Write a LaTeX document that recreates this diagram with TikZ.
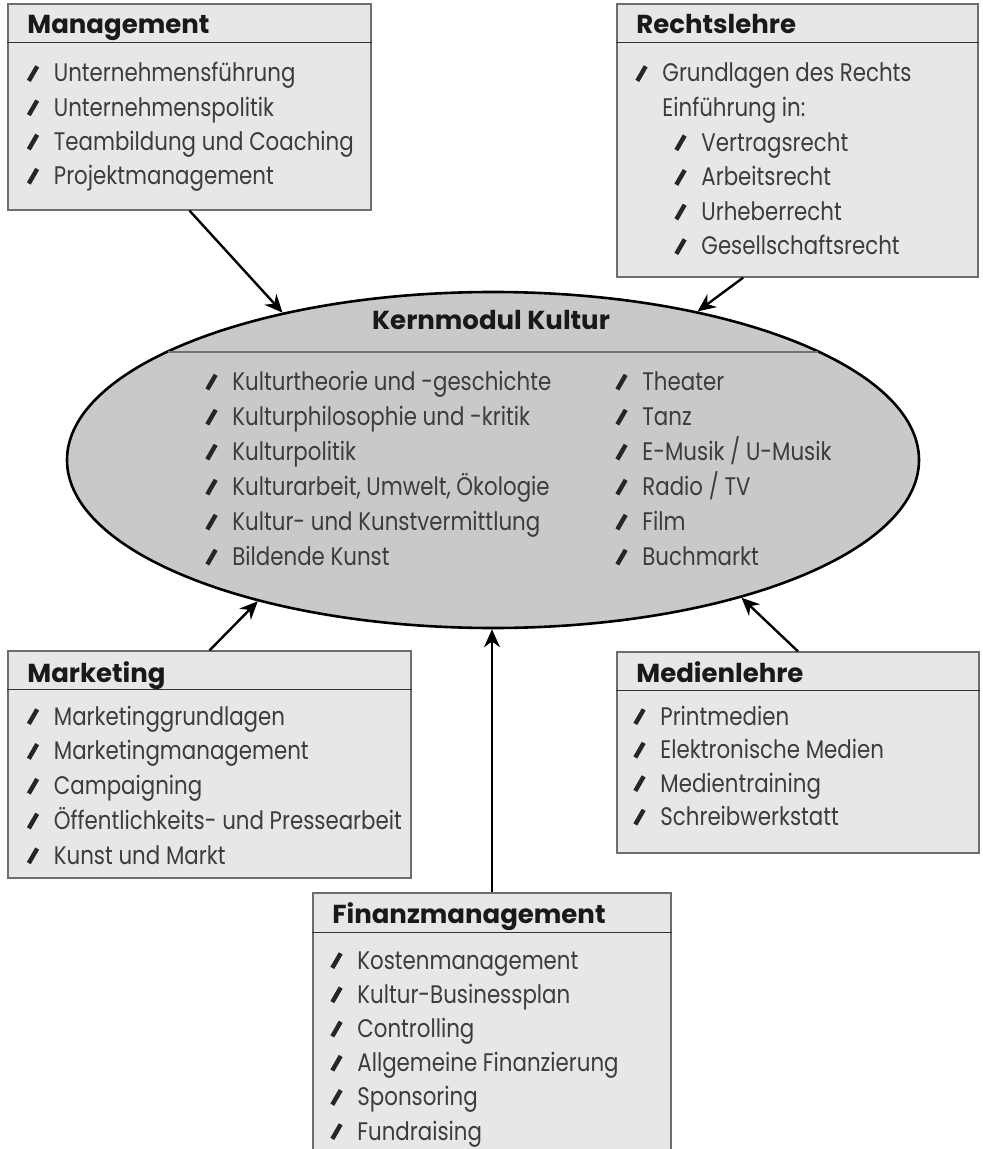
\documentclass[tikz,border=0pt]{standalone}
\usepackage{fontspec}
\setmainfont{Poppins}
\newfontfamily\punktfont{Poppins}[FakeStretch=0.84]
\usepackage{graphicx}
\usetikzlibrary{shapes.geometric,arrows.meta,fit,calc}

\definecolor{boxgray}{HTML}{E6E7E8}
\definecolor{kerngray}{HTML}{C8C9CB}
\definecolor{rahmen}{HTML}{6D6E70}
\definecolor{schrift}{HTML}{3C3C3C}

\newcommand{\strich}{\makebox[13.5pt][l]{\textcolor{black!85}{\rotatebox{60}{\rule{8.4pt}{2.2pt}}}}}

\tikzset{
  box/.style={draw=rahmen, fill=boxgray, line width=0.6pt, inner sep=0pt},
  kopf/.style={anchor=base west, inner sep=0pt, font=\bfseries\fontsize{13}{15}\selectfont, text=black!90},
  punkt/.style={anchor=base west, inner sep=0pt, font=\punktfont\fontsize{12.7}{14}\selectfont, text=schrift},
  trenn/.style={draw=black!80, line width=0.5pt},
  pfeil/.style={-{Stealth[length=9pt,width=8pt]}, line width=1.2pt},
}

\begin{document}
\begin{tikzpicture}[x=0.5pt, y=-0.5pt]

    \clip (0,0) rectangle (983,1149);

    % Kernmodul in der Mitte
    \node[ellipse, draw=black, line width=1.3pt, fill=kerngray, minimum width=426pt, minimum height=168pt, inner sep=0pt] (kern) at (493,460) {};
    \draw[draw=black!55, line width=0.9pt] (168,352) -- (818,352);
    \node[anchor=base, inner sep=0pt, font=\bfseries\fontsize{13}{15}\selectfont, text=black!90] (kern-titel) at (491,330) {Kernmodul Kultur};

    \foreach \t [count=\i from 0] in {Kulturtheorie und -geschichte, Kulturphilosophie und -kritik, Kulturpolitik, {Kulturarbeit, Umwelt, Ökologie}, Kultur- und Kunstvermittlung, Bildende Kunst} {
        \node[punkt] (kern-l\i) at (205, 390.5+35*\i) {\strich\t};
    }
    \foreach \t [count=\i from 0] in {Theater, Tanz, E-Musik / U-Musik, Radio / TV, Film, Buchmarkt} {
        \node[punkt] (kern-r\i) at (615, 390.5+35*\i) {\strich\t};
    }

    % Management
    \node[box, fit={(8,4) (371,210)}] (mgmt) {};
    \draw[trenn] ([yshift=-19.5pt]mgmt.north west) -- ([yshift=-19.5pt]mgmt.north east);
    \node[kopf] (mgmt-titel) at (27,34) {Management};
    \foreach \t [count=\i from 0] in {Unternehmensführung, Unternehmenspolitik, Teambildung und Coaching, Projektmanagement} {
        \node[punkt] (mgmt-\i) at (26.5, 82+34.2*\i) {\strich\t};
    }

    % Rechtslehre
    \node[box, fit={(617,4) (978,277)}] (recht) {};
    \draw[trenn] ([yshift=-19.5pt]recht.north west) -- ([yshift=-19.5pt]recht.north east);
    \node[kopf] (recht-titel) at (636,34) {Rechtslehre};
    \node[punkt] (recht-0) at (635,82) {\strich Grundlagen des Rechts};
    \node[punkt] (recht-1) at (662,116.5) {Einführung in:};
    \foreach \t [count=\i from 2] in {Vertragsrecht, Arbeitsrecht, Urheberrecht, Gesellschaftsrecht} {
        \node[punkt] (recht-\i) at (674, 82+34.6*\i) {\strich\t};
    }

    % Marketing
    \node[box, fit={(8,651) (411,878)}] (market) {};
    \draw[trenn] ([yshift=-19.75pt]market.north west) -- ([yshift=-19.75pt]market.north east);
    \node[kopf] (market-titel) at (27,682) {Marketing};
    \foreach \t [count=\i from 0] in {Marketinggrundlagen, Marketingmanagement, Campaigning, Öffentlichkeits- und Pressearbeit, Kunst und Markt} {
        \node[punkt] (market-\i) at (26.5, 725+34.8*\i) {\strich\t};
    }

    % Medienlehre
    \node[box, fit={(617,652) (979,853)}] (medien) {};
    \draw[trenn] ([yshift=-19.5pt]medien.north west) -- ([yshift=-19.5pt]medien.north east);
    \node[kopf] (medien-titel) at (636,682) {Medienlehre};
    \foreach \t [count=\i from 0] in {Printmedien, Elektronische Medien, Medientraining, Schreibwerkstatt} {
        \node[punkt] (medien-\i) at (633, 725+33.5*\i) {\strich\t};
    }

    % Finanzmanagement
    \node[box, fit={(313,893) (671,1170)}] (finanz) {};
    \draw[trenn] ([yshift=-20pt]finanz.north west) -- ([yshift=-20pt]finanz.north east);
    \node[kopf] (finanz-titel) at (332,923) {Finanzmanagement};
    \foreach \t [count=\i from 0] in {Kostenmanagement, Kultur-Businessplan, Controlling, Allgemeine Finanzierung, Sponsoring, Fundraising} {
        \node[punkt] (finanz-\i) at (330, 969+34.2*\i) {\strich\t};
    }

    % Pfeile zum Kernmodul
    \draw[pfeil] (mgmt.south) -- (kern.145);
    \draw[pfeil] ($(recht.south west)!0.35!(recht.south east)$) -- (kern.36);
    \draw[pfeil] (market.north) -- (kern.211);
    \draw[pfeil] (medien.north) -- (kern.-29.5);
    \draw[pfeil] (finanz.north) -- (finanz.north |- kern.south);

\end{tikzpicture}
\end{document}
